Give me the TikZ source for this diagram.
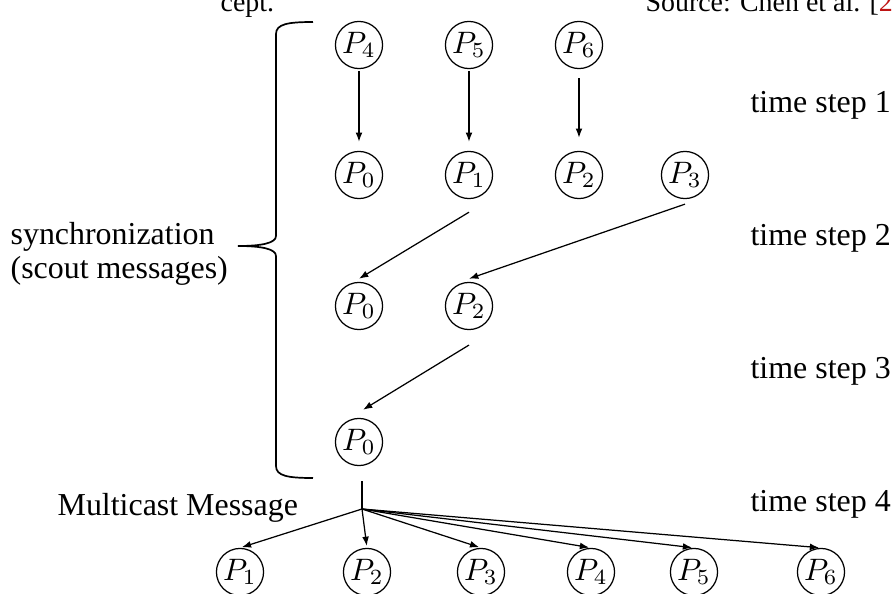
\documentclass[tikz,border=0pt]{standalone}
\usepackage[no-math]{fontspec}
\setmainfont{Liberation Serif}
\usetikzlibrary{arrows.meta}
\definecolor{citered}{RGB}{190,20,20}

\begin{document}
\begin{tikzpicture}[x=0.3226pt, y=-0.3226pt, font=\fontsize{10.3}{11}\selectfont,
        proc/.style={circle, draw, inner sep=0pt, minimum size=15.2pt},
        msg/.style={-{Latex[length=3pt,width=2.2pt]}},
        label/.style={anchor=west, inner sep=0pt},
        pagetext/.style={anchor=base west, inner sep=0pt, font=\fontsize{9}{11}\selectfont}]
    \useasboundingbox (0,0) rectangle (892,594);
    \clip (0,0) rectangle (892,594);
    % page text cut off above the figure
    \node[pagetext] (cept) at (220,11) {cept.};
    \node[pagetext] (src) at (645,11) {Source: Chen et al. [\textcolor{citered}{2}};
    % processes, one row per time step
    \foreach \i/\x in {4/359,5/469,6/579} {
        \node[proc] (a\i) at (\x,45) {$P_\i$};
    }
    \foreach \i/\x in {0/359,1/469,2/579,3/685} {
        \node[proc] (b\i) at (\x,175) {$P_\i$};
    }
    \node[proc] (c0) at (359,306) {$P_0$};
    \node[proc] (c2) at (469,306) {$P_2$};
    \node[proc] (d0) at (359,442) {$P_0$};
    \foreach \i/\x in {1/240,2/367,3/481,4/591,5/694,6/821} {
        \node[proc] (e\i) at (\x,572) {$P_\i$};
    }
    \foreach \k/\y in {1/105,2/238,3/371,4/504} {
        \node[label] (t\k) at (750,\y) {time step \k};
    }
    % scout messages
    \draw[msg, shorten <=0.6pt, shorten >=2.9pt] (a4) -- (b0);
    \draw[msg, shorten <=0.6pt, shorten >=2.9pt] (a5) -- (b1);
    \draw[msg, shorten <=2.9pt, shorten >=4.2pt] (a6) -- (b2);
    \draw[msg] ([yshift=-4.2pt]b1.south) -- ([yshift=1pt]c0.north);
    \draw[msg] ([yshift=-1.6pt]b3.south) -- ([yshift=1pt]c2.north);
    \draw[msg] ([yshift=-4.8pt]c2.south) -- ([xshift=1.3pt,yshift=2.6pt]d0.north);
    % multicast
    \coordinate (hub) at (362,509);
    \draw[shorten <=4.8pt] (d0.south -| hub) -- (hub);
    \foreach \i in {1,...,6} {
        \draw[msg, shorten >=0.6pt] (hub) -- (e\i.north);
    }
    \node[label] (mcast) at (57,508) {Multicast Message};
    % brace
    \draw[line width=0.55pt] (313,22) .. controls (288,22) and (276,24) .. (276,34)
        -- (276,236) .. controls (276,243) and (262,246) .. (238,246)
        .. controls (262,246) and (276,249) .. (276,256)
        -- (276,466) .. controls (276,476) and (288,478) .. (313,478);
    \node[label, align=left] (sync) at (10,254) {synchronization\\(scout messages)};
\end{tikzpicture}
\end{document}
